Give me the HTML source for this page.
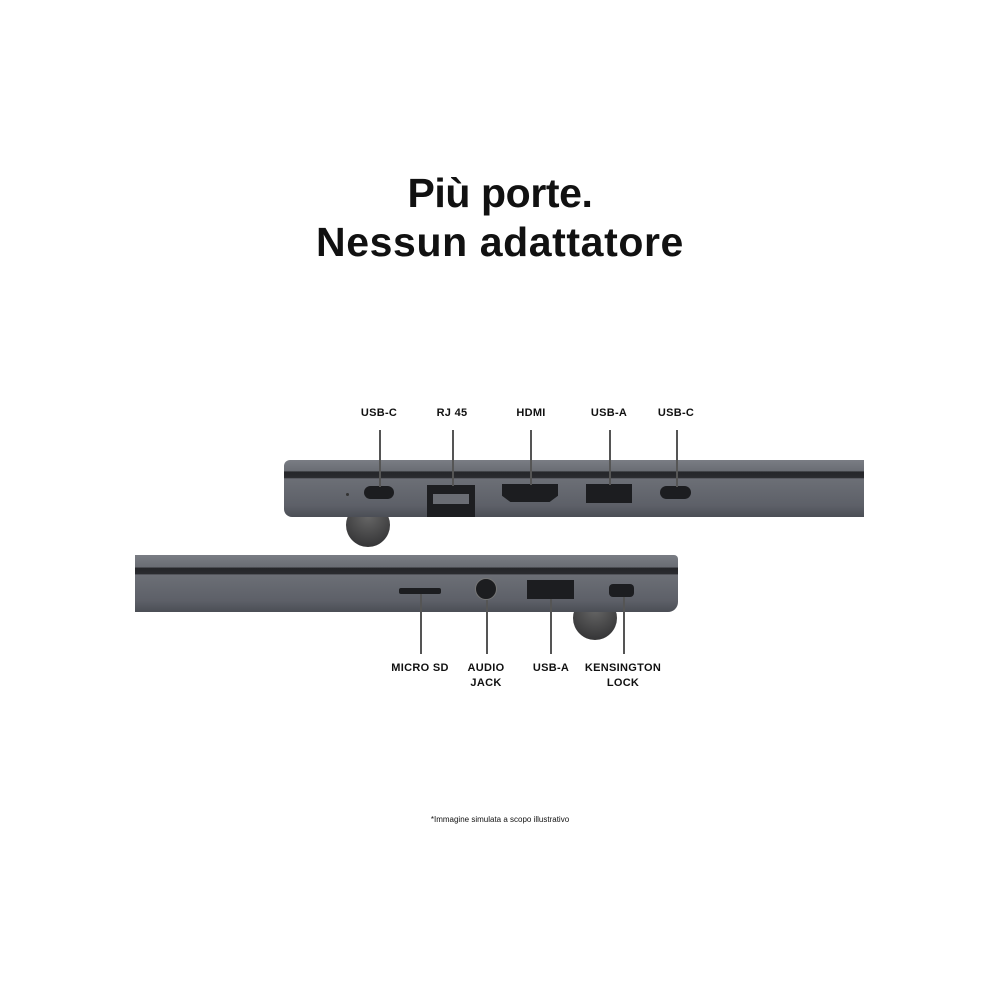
<!DOCTYPE html>
<html><head><meta charset="utf-8"><style>
*{margin:0;padding:0}
body{width:1000px;height:1000px;background:#fff;position:relative;overflow:hidden;font-family:"Liberation Sans",sans-serif;color:#111}
.t{position:absolute;left:0;width:1000px;text-align:center;font-weight:bold;font-size:41px}
.l{position:absolute;font-size:11px;font-weight:bold;text-align:center;width:100px;line-height:15px;letter-spacing:0.3px}
.v{position:absolute;width:1.5px;background:#555}
.a{position:absolute}
</style></head><body>
<div class="t" style="top:170px;letter-spacing:-0.4px">Più porte.</div>
<div class="t" style="top:219px;letter-spacing:0.6px">Nessun adattatore</div>

<div class="l" style="left:329px;top:406px">USB-C</div>
<div class="l" style="left:402px;top:406px">RJ 45</div>
<div class="l" style="left:481px;top:406px">HDMI</div>
<div class="l" style="left:559px;top:406px">USB-A</div>
<div class="l" style="left:626px;top:406px">USB-C</div>

<!-- laptop 1 -->
<div class="a" style="left:346px;top:503px;width:44px;height:44px;border-radius:50%;background:radial-gradient(circle at 50% 30%,#666,#2a2a2c)"></div>
<div class="a" style="left:284px;top:460px;width:580px;height:57px;border-radius:6px 0 0 8px;background:linear-gradient(#7a7d84 0%,#6a6d74 19%,#25262a 21%,#2a2b2f 31%,#6c6f76 33%,#5d6068 80%,#4b4e55 100%)"></div>
<div class="a" style="left:427px;top:485px;width:48px;height:32px;background:#1d1e21"></div>
<div class="a" style="left:433px;top:494px;width:36px;height:10px;background:#6a6d74"></div>
<div class="a" style="left:346px;top:493px;width:3px;height:3px;border-radius:50%;background:#333"></div>
<div class="a" style="left:364px;top:486px;width:30px;height:13px;border-radius:7px;background:#1c1d20"></div>
<div class="a" style="left:502px;top:484px;width:56px;height:18px;background:#1c1d20;clip-path:polygon(0 0,100% 0,100% 65%,85% 100%,15% 100%,0 65%)"></div>
<div class="a" style="left:586px;top:484px;width:46px;height:19px;background:#1c1d20"></div>
<div class="a" style="left:660px;top:486px;width:31px;height:13px;border-radius:7px;background:#1c1d20"></div>
<div class="v" style="left:379px;top:430px;height:57px"></div>
<div class="v" style="left:452px;top:430px;height:56px"></div>
<div class="v" style="left:530px;top:430px;height:55px"></div>
<div class="v" style="left:609px;top:430px;height:55px"></div>
<div class="v" style="left:676px;top:430px;height:57px"></div>

<!-- laptop 2 -->
<div class="a" style="left:573px;top:596px;width:44px;height:44px;border-radius:50%;background:radial-gradient(circle at 50% 30%,#666,#2a2a2c)"></div>
<div class="a" style="left:135px;top:555px;width:543px;height:57px;border-radius:0 4px 10px 0;background:linear-gradient(#7a7d84 0%,#6a6d74 21%,#25262a 23%,#2a2b2f 33%,#6c6f76 35%,#5d6068 80%,#4b4e55 100%)"></div>
<div class="a" style="left:399px;top:588px;width:42px;height:6px;border-radius:2px;background:#1c1d20"></div>
<div class="a" style="left:475px;top:578px;width:22px;height:22px;border-radius:50%;background:#1c1d20;border:1px solid #777;box-sizing:border-box"></div>
<div class="a" style="left:527px;top:580px;width:47px;height:19px;background:#1c1d20"></div>
<div class="a" style="left:609px;top:584px;width:25px;height:13px;border-radius:4px;background:#1c1d20"></div>
<div class="v" style="left:420px;top:594px;height:60px"></div>
<div class="v" style="left:486px;top:600px;height:54px"></div>
<div class="v" style="left:550px;top:599px;height:55px"></div>
<div class="v" style="left:623px;top:597px;height:57px"></div>

<div class="l" style="left:370px;top:661px">MICRO SD</div>
<div class="l" style="left:436px;top:661px">AUDIO<br>JACK</div>
<div class="l" style="left:501px;top:661px">USB-A</div>
<div class="l" style="left:573px;top:661px">KENSINGTON<br>LOCK</div>

<div class="a" style="left:0;width:1000px;top:815px;text-align:center;font-size:8px">*Immagine simulata a scopo illustrativo</div>
</body></html>
